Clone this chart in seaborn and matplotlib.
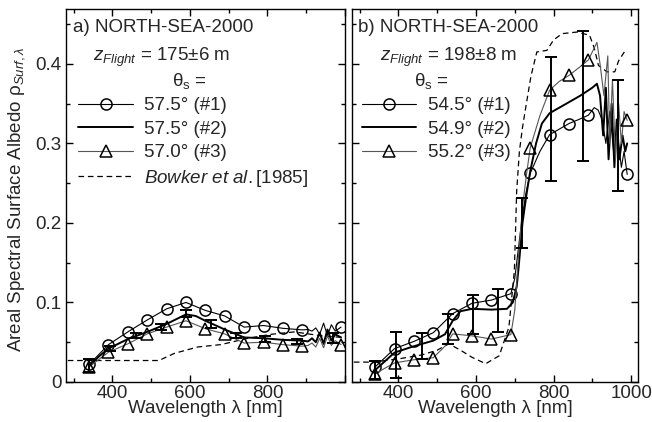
import numpy as np
import pandas as pd
import matplotlib
matplotlib.use("Agg")
import matplotlib.pyplot as plt
from matplotlib.lines import Line2D
from matplotlib.ticker import MultipleLocator
import seaborn as sns

# ---------------- data: panel a ----------------
wl_a1 = [340, 390, 440, 490, 540, 590, 640, 690, 740, 790, 840, 890, 905, 915, 925, 935, 945, 955, 965, 975, 990]
val_a1 = [0.022, 0.047, 0.063, 0.078, 0.092, 0.100, 0.090, 0.083, 0.069, 0.071, 0.0675, 0.0655, 0.066, 0.064, 0.068, 0.060, 0.074, 0.058, 0.072, 0.064, 0.069]
wl_a2 = [340, 365, 390, 440, 490, 540, 590, 615, 640, 690, 740, 790, 840, 890, 905, 915, 925, 935, 945, 955, 965, 975, 990]
val_a2 = [0.020, 0.032, 0.042, 0.054, 0.063, 0.073, 0.085, 0.083, 0.077, 0.066, 0.056, 0.055, 0.053, 0.052, 0.051, 0.055, 0.050, 0.062, 0.048, 0.066, 0.052, 0.060, 0.056]
wl_a3 = [340, 390, 440, 490, 540, 590, 640, 690, 740, 790, 840, 890, 905, 915, 925, 935, 945, 955, 965, 975, 990]
val_a3 = [0.019, 0.0375, 0.048, 0.0605, 0.069, 0.077, 0.067, 0.0604, 0.049, 0.050, 0.047, 0.045, 0.046, 0.049, 0.044, 0.055, 0.043, 0.058, 0.046, 0.052, 0.047]
marks_a = [340, 390, 440, 490, 540, 590, 640, 690, 740, 790, 840, 890, 990]
err_wl_a = [340, 395, 460, 525, 590, 655, 720, 794, 877, 968]
err_c_a = [0.021, 0.042, 0.058, 0.069, 0.086, 0.073, 0.058, 0.054, 0.051, 0.055]
err_e_a = [0.008, 0.003, 0.003, 0.004, 0.004, 0.005, 0.003, 0.004, 0.003, 0.006]
wl_bow_a = [285, 520, 560, 620, 680, 750, 810, 870, 940, 995]
val_bow_a = [0.027, 0.027, 0.036, 0.044, 0.047, 0.055, 0.060, 0.063, 0.058, 0.056]

# ---------------- data: panel b ----------------
wl_b1 = [340, 390, 440, 490, 540, 590, 640, 690, 700, 710, 720, 730, 740, 765, 790, 815, 840, 865, 890, 905, 915, 925, 935, 945, 955, 965, 975, 982, 990]
val_b1 = [0.019, 0.042, 0.051, 0.062, 0.086, 0.099, 0.103, 0.111, 0.13, 0.17, 0.21, 0.24, 0.2625, 0.29, 0.311, 0.318, 0.325, 0.33, 0.3355, 0.345, 0.342, 0.33, 0.30, 0.34, 0.29, 0.31, 0.27, 0.29, 0.261]
wl_b2 = [340, 390, 440, 490, 520, 540, 560, 590, 640, 680, 695, 705, 710, 720, 730, 740, 755, 770, 790, 826, 869, 900, 912, 920, 928, 935, 942, 950, 957, 963, 970, 978, 985, 990]
val_b2 = [0.015, 0.037, 0.045, 0.052, 0.060, 0.077, 0.089, 0.092, 0.091, 0.092, 0.10, 0.12, 0.144, 0.20, 0.235, 0.265, 0.30, 0.325, 0.338, 0.348, 0.36, 0.37, 0.375, 0.36, 0.31, 0.37, 0.28, 0.35, 0.27, 0.33, 0.28, 0.31, 0.29, 0.30]
wl_b3 = [340, 390, 440, 490, 520, 540, 590, 640, 690, 700, 710, 720, 730, 740, 765, 790, 815, 840, 865, 890, 905, 912, 920, 930, 940, 945, 952, 960, 968, 975, 982, 990]
val_b3 = [0.0105, 0.024, 0.028, 0.0305, 0.045, 0.0605, 0.058, 0.054, 0.0596, 0.09, 0.16, 0.22, 0.26, 0.2946, 0.335, 0.367, 0.378, 0.3855, 0.395, 0.405, 0.42, 0.427, 0.40, 0.36, 0.41, 0.30, 0.38, 0.28, 0.35, 0.30, 0.34, 0.329]
marks_b = [340, 390, 440, 490, 540, 590, 640, 690, 740, 790, 840, 890, 990]
err_wl_b = [340, 395, 460, 528, 593, 656, 720, 793, 876, 966]
err_c_b = [0.015, 0.034, 0.0455, 0.067, 0.085, 0.090, 0.200, 0.331, 0.3595, 0.310]
err_e_b = [0.011, 0.029, 0.0165, 0.019, 0.025, 0.0275, 0.031, 0.078, 0.0815, 0.070]
wl_bow_b = [285, 335, 400, 460, 500, 530, 560, 590, 625, 660, 685, 699, 705, 712, 720, 730, 742, 757, 783, 800, 822, 860, 893, 905, 916, 938, 958, 968, 988]
val_bow_b = [0.025, 0.025, 0.029, 0.034, 0.040, 0.048, 0.040, 0.031, 0.023, 0.033, 0.069, 0.14, 0.24, 0.29, 0.32, 0.35, 0.385, 0.415, 0.417, 0.43, 0.438, 0.44, 0.436, 0.42, 0.398, 0.39, 0.39, 0.404, 0.419]

labels_a = ["57.5° (#1)", "57.5° (#2)", "57.0° (#3)"]
labels_b = ["54.5° (#1)", "54.9° (#2)", "55.2° (#3)"]
bowker_label = r"$Bowker\ et\ al.$[1985]"
yticks = [0, 0.1, 0.2, 0.3, 0.4]
ytick_labels = ["0", "0.1", "0.2", "0.3", "0.4"]

# ---------------- style ----------------
sns.set_theme(style="ticks")
plt.rcParams["font.family"] = ["Liberation Sans", "DejaVu Sans"]
plt.rcParams["mathtext.fontset"] = "custom"
plt.rcParams["mathtext.rm"] = "Liberation Sans"
plt.rcParams["mathtext.it"] = "Liberation Sans:italic"
plt.rcParams["mathtext.bf"] = "Liberation Sans:bold"
plt.rcParams["font.size"] = 13.5

FS = 13.5
fig = plt.figure(figsize=(6.52, 4.22), dpi=100)
axA = fig.add_axes([0.101, 0.0948, 0.428, 0.8839])
axB = fig.add_axes([0.5403, 0.0948, 0.4377, 0.8839])

GREY = "#555555"
DASH = (0, (4.5, 3))
THICK = 1.4


def draw_panel(ax, w1, v1, w2, v2, w3, v3, marks, ew, ec, ee, wb, vb):
    sns.lineplot(x=wb, y=vb, ax=ax, color="black", lw=0.9, linestyle=DASH, estimator=None, sort=False)
    idx1 = [i for i, w in enumerate(w1) if w in marks]
    idx3 = [i for i, w in enumerate(w3) if w in marks]
    sns.lineplot(x=w1, y=v1, ax=ax, color="black", lw=0.8, estimator=None, sort=False,
                 marker="o", markevery=idx1, markersize=8, markerfacecolor="none",
                 markeredgecolor="black", markeredgewidth=1.1)
    sns.lineplot(x=w2, y=v2, ax=ax, color="black", lw=THICK, estimator=None, sort=False)
    sns.lineplot(x=w3, y=v3, ax=ax, color=GREY, lw=0.8, estimator=None, sort=False,
                 marker="^", markevery=idx3, markersize=8.5, markerfacecolor="none",
                 markeredgecolor="black", markeredgewidth=1.1)
    ax.errorbar(ew, ec, yerr=ee, fmt="none", ecolor="black", elinewidth=1.4,
                capsize=4.5, capthick=1.4)


draw_panel(axA, wl_a1, val_a1, wl_a2, val_a2, wl_a3, val_a3, marks_a,
           err_wl_a, err_c_a, err_e_a, wl_bow_a, val_bow_a)
draw_panel(axB, wl_b1, val_b1, wl_b2, val_b2, wl_b3, val_b3, marks_b,
           err_wl_b, err_c_b, err_e_b, wl_bow_b, val_bow_b)

for ax in (axA, axB):
    ax.set_ylim(0, 0.469)
    ax.set_yticks(yticks)
    ax.yaxis.set_minor_locator(MultipleLocator(0.05))
    ax.xaxis.set_minor_locator(MultipleLocator(100))
    ax.tick_params(which="both", direction="in", top=True, right=True, labelsize=FS, width=1, color="black")
    ax.tick_params(which="major", length=5, pad=3)
    ax.tick_params(axis="x", which="major", pad=2)
    ax.tick_params(which="minor", length=3)
    for s in ax.spines.values():
        s.set_linewidth(1.0)
        s.set_color("black")
    ax.set_xlabel("Wavelength λ [nm]", fontsize=FS, labelpad=-1.3)

axA.set_xlim(280, 1000)
axA.set_xticks([400, 600, 800, 1000])
axA.set_xticklabels(["400", "600", "800", ""])
axA.set_yticklabels(ytick_labels)
axA.set_ylabel(r"Areal Spectral Surface Albedo $\mathrm{\rho}_{Surf,\lambda}$", fontsize=FS)
axA.yaxis.set_label_coords(-0.14, 0.49)

axB.set_xlim(281, 1017)
axB.set_xticks([400, 600, 800, 1000])
axB.set_xticklabels(["400", "600", "800", "1000"])
axB.set_yticklabels([])
axB.set_ylabel("")

# ---------------- annotations & legends ----------------
def annotate(ax, tag, zval, x_tag, x_z, x_th, leg_x, with_bowker, labels):
    ax.text(x_tag, 0.95, tag, transform=ax.transAxes, fontsize=FS, va="center", ha="left")
    ax.text(x_z, 0.87, r"$z_{Flight}$ = " + zval, transform=ax.transAxes, fontsize=FS, va="center", ha="left")
    ax.text(x_th, 0.807, r"$\mathrm{\theta}_\mathrm{s}$ =", transform=ax.transAxes, fontsize=FS, va="center", ha="left")
    handles = [
        Line2D([], [], color="black", lw=0.8, marker="o", markersize=8, markerfacecolor="none",
               markeredgecolor="black", markeredgewidth=1.1),
        Line2D([], [], color="black", lw=THICK),
        Line2D([], [], color=GREY, lw=0.8, marker="^", markersize=8.5, markerfacecolor="none",
               markeredgecolor="black", markeredgewidth=1.1),
    ]
    labs = list(labels)
    if with_bowker:
        handles.append(Line2D([], [], color="black", lw=0.9, linestyle=DASH))
        labs.append(bowker_label)
    ax.legend(handles, labs, loc="upper left", bbox_to_anchor=(leg_x, 0.764), frameon=False,
              fontsize=FS, handlelength=2.9, handletextpad=0.6, labelspacing=0.34,
              borderpad=0, borderaxespad=0)


annotate(axA, "a) NORTH-SEA-2000", "175±6 m", 0.025, 0.097, 0.38, 0.045, True, labels_a)
annotate(axB, "b) NORTH-SEA-2000", "198±8 m", 0.02, 0.097, 0.216, 0.034, False, labels_b)

fig.savefig("out.png", dpi=100)
